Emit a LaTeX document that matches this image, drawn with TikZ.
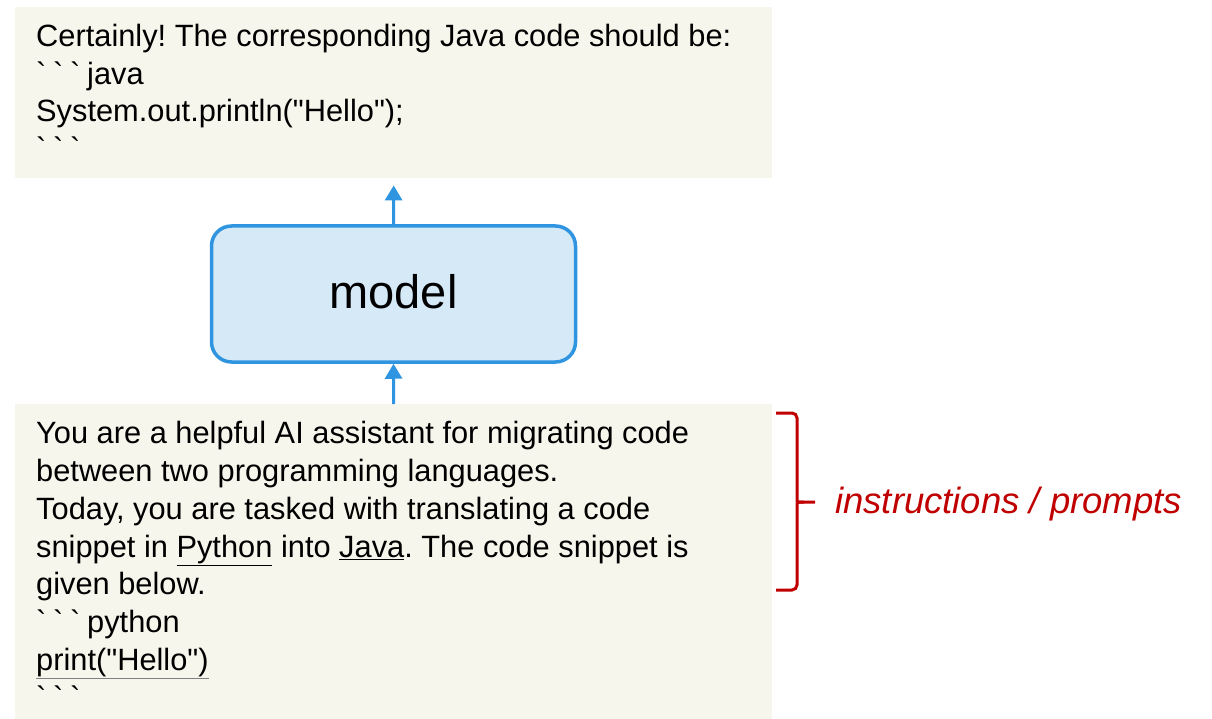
\documentclass[tikz,border=0pt]{standalone}
\usepackage{fontspec}
\setmainfont{Liberation Sans}[Ligatures=TeXOff]
\usetikzlibrary{arrows.meta,calc}
\definecolor{paper}{HTML}{F6F6EC}
\definecolor{modelfill}{HTML}{D5E9F7}
\definecolor{modelline}{HTML}{2F95E0}
\definecolor{note}{HTML}{C00000}
% wide backtick, as in the code fences
\newcommand\fence{\makebox[17pt][l]{\symbol{96}}}
% straight double quote
\newcommand\dq{\symbol{34}}
\newcommand\grayul[1]{{\color{gray}\underline{\color{black}#1}}}
\frenchspacing
\begin{document}
\begin{tikzpicture}[x=1pt,y=-1pt,
  panel/.style={fill=paper, draw=none, inner sep=0pt, anchor=north west},
  line/.style={anchor=base west, inner sep=0pt, font=\fontsize{30.8}{36}\selectfont},
  modelbox/.style={draw=modelline, fill=modelfill, line width=3.5pt, rounded corners=20pt,
    minimum width=364pt, minimum height=136pt, inner sep=0pt},
  flow/.style={draw=modelline, line width=3pt, -{Triangle[width=17pt,length=15pt]}},
  bracket/.style={draw=note, line width=3pt, rounded corners=5pt}]
\useasboundingbox (0,0) rectangle (1212,719);

% answer panel
\node[panel, minimum width=757pt, minimum height=171pt] (answer) at (15,7) {};
\node[line] (a1) at (36,47)  {Certainly! The corresponding Java code should be:};
\node[line] (a2) at (36,85)  {\fence\fence\fence java};
\node[line] (a3) at (36,122) {System.out.println(\dq Hello\dq);};
\node[line] (a4) at (36,160) {\fence\fence\fence};

% model
\node[modelbox] (model) at (393.5,294) {};
\node[anchor=base, inner sep=0pt, font=\fontsize{47}{52}\selectfont] (mlabel) at (393.5,308) {model};

% prompt panel
\node[panel, minimum width=757pt, minimum height=315pt] (prompt) at (15,404) {};
\node[line] (p1) at (36,443) {You are a helpful AI assistant for migrating code};
\node[line] (p2) at (36,481) {between two programming languages.};
\node[line] (p3) at (36,519) {Today, you are tasked with translating a code};
\node[line] (p4) at (36,557) {snippet in \underline{Python} into \underline{Java}. The code snippet is};
\node[line] (p5) at (36,594) {given below.};
\node[line] (p6) at (36,632) {\fence\fence\fence python};
\node[line] (p7) at (36,670) {\grayul{print(\dq Hello\dq)}};
\node[line] (p8) at (36,708) {\fence\fence\fence};

% connectors
\draw[flow] (prompt.north) -- (model.south);
\draw[flow] (model.north) -- ([yshift=-7pt]answer.south);

% bracket over the instruction lines
\draw[bracket] (776,413) -| (797,495) .. controls (797,502) .. (804,502) -- (815,502);
\draw[bracket] (776,590) -| (797,509) .. controls (797,502) .. (804,502);
\node[anchor=base west, inner sep=0pt, text=note, font=\fontsize{36.5}{40}\selectfont\itshape] (tag) at (835,513) {instructions / prompts};
\end{tikzpicture}
\end{document}
